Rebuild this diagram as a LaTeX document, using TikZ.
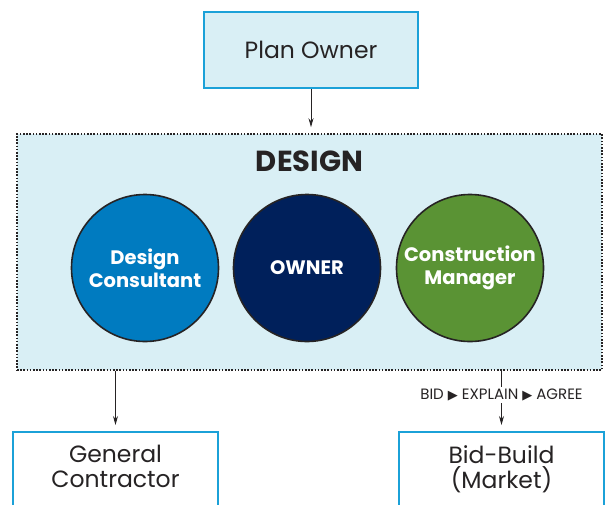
\documentclass[tikz,border=0pt]{standalone}
\usepackage{fontspec}
\setmainfont{Poppins}
\newfontfamily\symbolfont{DejaVu Sans}
\usetikzlibrary{arrows.meta, positioning}

\definecolor{paleblue}{HTML}{D9EFF5}
\definecolor{boxline}{HTML}{1BA1D8}
\definecolor{consultblue}{HTML}{007BC0}
\definecolor{ownernavy}{HTML}{00205B}
\definecolor{managergreen}{HTML}{5A9334}
\definecolor{inkgray}{HTML}{262324}

\begin{document}
\begin{tikzpicture}[
		x=1pt, y=-1pt,
		every node/.style={text=inkgray, font=\fontsize{23.5}{25}\selectfont},
		arrow/.style={-{Stealth[length=9pt, width=5pt]}, line width=0.8pt, inkgray},
		rolebox/.style={draw=boxline, line width=2pt, minimum width=205pt},
		phase/.style={draw=inkgray, line width=1.6pt, dash pattern=on 1.6pt off 1.6pt, fill=paleblue, minimum width=585pt, minimum height=236pt},
		party/.style={circle, draw=inkgray, line width=1.6pt, minimum size=147pt, align=center, text=white, font=\fontsize{19.5}{23}\selectfont\bfseries}
		]
		\useasboundingbox (0,0) rectangle (605,504);
		
		% === TOP BOX ===
		\node[rolebox, fill=paleblue, minimum width=214pt, minimum height=76pt] (planowner) at (311,50) {Plan Owner};
		
		% === DESIGN PHASE ===
		\node[phase] (design) at (309.5,252) {};
		\node[font=\fontsize{29}{32}\selectfont\bfseries, below=14pt of design.north] (designtitle) {DESIGN};
		
		\node[party, fill=consultblue] (consultant) at (145,268) {Design\\Consultant};
		\node[party, fill=ownernavy] (owner) at (307,268) {OWNER};
		\node[party, fill=managergreen] (manager) at (470,268) {Construction\\Manager};
		
		% === BOTTOM BOXES (run off the page) ===
		\node[rolebox, fill=white, minimum height=100pt, anchor=north] (contractor) at (115.5,431) {};
		\node[align=center, below=11pt of contractor.north] (contractortext) {General\\Contractor};
		
		\node[rolebox, fill=white, minimum height=100pt, anchor=north] (market) at (501.5,431) {};
		\node[align=center, below=11pt of market.north] (markettext) {Bid-Build\\(Market)};
		
		% === ARROWS ===
		\draw[arrow, shorten >=6pt] (planowner.south) -- (planowner.south |- design.north);
		\draw[arrow, shorten >=6pt] (contractor.north |- design.south) -- (contractor.north);
		\draw[arrow, shorten >=6pt] (market.north |- design.south) -- 
		node[pos=0.4, fill=white, inner sep=2pt, font=\fontsize{15}{17}\selectfont] {BID {\symbolfont\fontsize{13}{14}\selectfont ▶} EXPLAIN {\symbolfont\fontsize{13}{14}\selectfont ▶} AGREE} (market.north);
		
	\end{tikzpicture}
\end{document}
